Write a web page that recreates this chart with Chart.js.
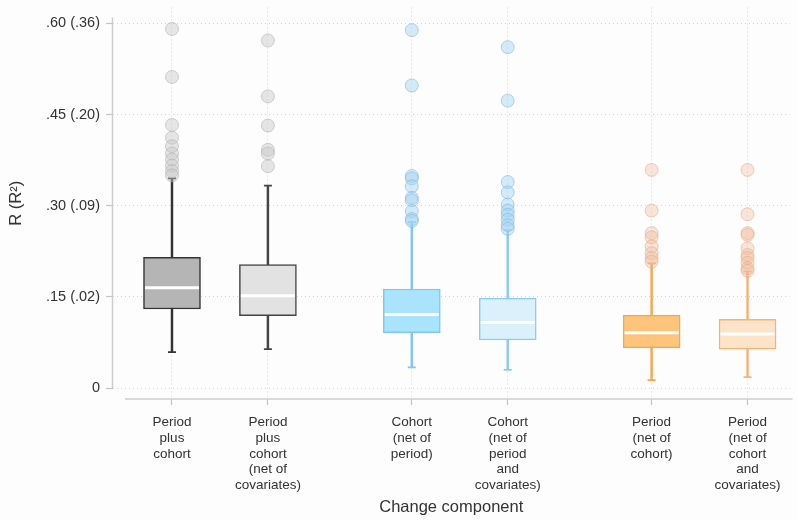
<!DOCTYPE html>
<html>
<head>
<meta charset="utf-8">
<script src="https://cdn.jsdelivr.net/npm/chart.js@4.4.1/dist/chart.umd.min.js"></script>
<style>
  html, body { margin: 0; padding: 0; background: #fdfdfd; }
  #wrap { width: 797px; height: 520px; }
</style>
</head>
<body>
<div id="wrap"><canvas id="c" width="797" height="520"></canvas></div>
<script>
// Change components, placed in three pairs along the x axis
const categoryLabels = [
  ["Period", "plus", "cohort"],
  ["Period", "plus", "cohort", "(net of", "covariates)"],
  ["Cohort", "(net of", "period)"],
  ["Cohort", "(net of", "period", "and", "covariates)"],
  ["Period", "(net of", "cohort)"],
  ["Period", "(net of", "cohort", "and", "covariates)"]
];
const positions = [1, 2, 3.5, 4.5, 6, 7];

// Box-plot summaries of R
const whiskerLow  = [0.059, 0.064, 0.034, 0.030, 0.013, 0.018];
const quartile1   = [0.130, 0.119, 0.091, 0.079, 0.066, 0.064];
const medians     = [0.165, 0.152, 0.121, 0.108, 0.091, 0.089];
const quartile3   = [0.215, 0.203, 0.163, 0.148, 0.120, 0.113];
const whiskerHigh = [0.345, 0.333, 0.273, 0.260, 0.205, 0.192];

// Outside values
const outliers = [
  [0.591, 0.512, 0.433, 0.412, 0.398, 0.386, 0.376, 0.366, 0.357, 0.350],
  [0.572, 0.480, 0.432, 0.392, 0.386, 0.365],
  [0.589, 0.498, 0.349, 0.345, 0.332, 0.313, 0.309, 0.291, 0.278, 0.275],
  [0.561, 0.473, 0.339, 0.322, 0.302, 0.292, 0.285, 0.277, 0.268, 0.262],
  [0.359, 0.292, 0.255, 0.248, 0.233, 0.222, 0.214, 0.208],
  [0.359, 0.286, 0.255, 0.252, 0.230, 0.219, 0.214, 0.206, 0.197, 0.193]
];

// Y axis: R with R-squared in parentheses
const yTickValues = [0, 0.15, 0.30, 0.45, 0.60];
const yTickLabels = ["0", ".15 (.02)", ".30 (.09)", ".45 (.20)", ".60 (.36)"];

// Styling per box
const boxFill   = ["#b5b5b5", "#e2e2e2", "#a9e4fc", "#daf1fc", "#fdc57c", "#fde3c8"];
const boxLine   = ["#333333", "#444444", "#80c6ee", "#8ccaee", "#f2a84c", "#f1b577"];
const outFill   = ["rgba(200,200,200,0.45)", "rgba(200,200,200,0.45)",
                   "rgba(165,210,242,0.45)", "rgba(165,210,242,0.45)",
                   "rgba(240,190,160,0.40)", "rgba(240,190,160,0.40)"];
const outLine   = ["rgba(175,175,175,0.55)", "rgba(175,175,175,0.55)",
                   "rgba(120,180,230,0.55)", "rgba(120,180,230,0.55)",
                   "rgba(228,165,125,0.50)", "rgba(228,165,125,0.50)"];

const boxData = positions.map((p, i) => ({ x: p, y: [quartile1[i], quartile3[i]] }));
const whiskerData = positions.map((p, i) => ({ x: p, y: [whiskerLow[i], whiskerHigh[i]] }));
const capData = [];
const capColors = [];
positions.forEach((p, i) => {
  capData.push({ x: p, y: whiskerLow[i] }, { x: p, y: whiskerHigh[i] });
  capColors.push(boxLine[i], boxLine[i]);
});

const outlierSets = outliers.map((vals, i) => ({
  type: "scatter",
  data: vals.map(v => ({ x: positions[i], y: v })),
  pointStyle: "circle",
  pointRadius: 6.5,
  pointBackgroundColor: outFill[i],
  pointBorderColor: outLine[i],
  pointBorderWidth: 1,
  order: 0
}));
const BOX_INDEX = outlierSets.length;

const FONT = "'Liberation Sans', Arial, Helvetica, sans-serif";

// Background, median bars across each box, and the two offset axis lines
const frame = {
  id: "frame",
  beforeDraw(chart) {
    const { ctx, width, height } = chart;
    ctx.save();
    ctx.fillStyle = "#fdfdfd";
    ctx.fillRect(0, 0, width, height);
    ctx.restore();
  },
  afterDatasetsDraw(chart) {
    const { ctx, chartArea } = chart;
    const y = chart.scales.y;
    ctx.save();
    // medians
    const meta = chart.getDatasetMeta(BOX_INDEX);
    ctx.strokeStyle = "#ffffff";
    ctx.lineWidth = 3;
    meta.data.forEach((bar, i) => {
      const { x, width } = bar.getProps(["x", "width"], true);
      const my = y.getPixelForValue(medians[i]);
      ctx.beginPath();
      ctx.moveTo(x - width / 2 + 1.5, my);
      ctx.lineTo(x + width / 2 - 1.5, my);
      ctx.stroke();
    });
    // axis lines
    ctx.strokeStyle = "#cdcdcd";
    ctx.lineWidth = 1.5;
    ctx.beginPath();
    ctx.moveTo(chartArea.left - 0.5, y.getPixelForValue(0.61));
    ctx.lineTo(chartArea.left - 0.5, y.getPixelForValue(0));
    ctx.moveTo(chartArea.left + 12, chartArea.bottom);
    ctx.lineTo(chartArea.right + 3, chartArea.bottom);
    ctx.stroke();
    ctx.restore();
  }
};

new Chart(document.getElementById("c"), {
  type: "bar",
  data: {
    datasets: [
      ...outlierSets,
      {
        type: "bar",
        data: boxData,
        backgroundColor: boxFill,
        borderColor: boxLine,
        borderWidth: 1.5,
        borderSkipped: false,
        barThickness: 57,
        grouped: false,
        order: 2
      },
      {
        type: "scatter",
        data: capData,
        pointStyle: "line",
        pointRadius: 4,
        pointBorderColor: capColors,
        pointBorderWidth: 1.8,
        order: 3
      },
      {
        type: "bar",
        data: whiskerData,
        backgroundColor: boxLine,
        borderWidth: 0,
        barThickness: 1.8,
        grouped: false,
        order: 4
      }
    ]
  },
  options: {
    responsive: false,
    animation: false,
    events: [],
    layout: { padding: { top: 0, left: 0, right: 0, bottom: 0 } },
    plugins: {
      legend: { display: false },
      tooltip: { enabled: false }
    },
    scales: {
      x: {
        type: "linear",
        offset: false,
        min: 0.385,
        max: 7.4375,
        afterBuildTicks: s => { s.ticks = positions.map(v => ({ value: v })); },
        afterFit: s => { s.height = 121; },
        grid: {
          offset: false,
          color: "#d4d4d4",
          lineWidth: 1,
          drawTicks: true,
          tickLength: 6,
          tickColor: "#c4c4c4",
          tickWidth: 1.2
        },
        border: { display: false, dash: [1, 3] },
        ticks: {
          autoSkip: false,
          maxRotation: 0,
          padding: 10,
          color: "#333333",
          font: { family: FONT, size: 13.5, lineHeight: 1.15 },
          callback: v => {
            const i = positions.indexOf(v);
            return i >= 0 ? categoryLabels[i] : "";
          }
        },
        title: {
          display: true,
          text: "Change component",
          color: "#333333",
          font: { family: FONT, size: 16.5 },
          padding: { top: 0, bottom: 3 }
        }
      },
      y: {
        min: -0.0181,
        max: 0.6263,
        afterBuildTicks: s => { s.ticks = yTickValues.map(v => ({ value: v })); },
        afterFit: s => { s.width = 113; s.paddingTop = 0; s.paddingBottom = 0; },
        grid: {
          color: "#d4d4d4",
          lineWidth: 1,
          drawTicks: true,
          tickLength: 7,
          tickColor: "#c4c4c4",
          tickWidth: 1.2
        },
        border: { display: false, dash: [1, 3] },
        ticks: {
          padding: 6,
          color: "#333333",
          font: { family: FONT, size: 14.5 },
          callback: v => {
            const i = yTickValues.indexOf(v);
            return i >= 0 ? yTickLabels[i] : "";
          }
        },
        title: {
          display: true,
          text: "R (R\u00B2)",
          color: "#333333",
          font: { family: FONT, size: 16.5 },
          padding: { top: 7, bottom: 0 }
        }
      }
    }
  },
  plugins: [frame]
});
</script>
</body>
</html>
